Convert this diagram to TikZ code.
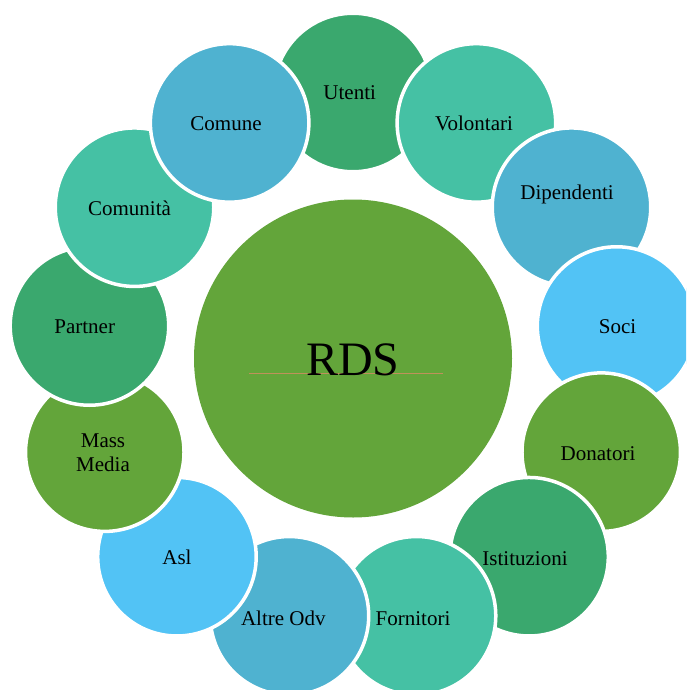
\documentclass[tikz,border=0pt]{standalone}
\usepackage{fontspec}
\setmainfont{Liberation Serif}
\definecolor{cA}{RGB}{58,168,110}
\definecolor{cB}{RGB}{69,193,164}
\definecolor{cC}{RGB}{79,178,208}
\definecolor{cD}{RGB}{82,195,245}
\definecolor{cE}{RGB}{99,165,58}
\definecolor{rulecol}{RGB}{190,145,90}
\begin{document}
\begin{tikzpicture}[x=1pt,y=-1pt,
  bubble/.style={circle,draw=white,line width=3.5pt,minimum size=158.5pt,inner sep=0pt,outer sep=0pt},
  hub/.style={circle,fill=cE,minimum size=318pt,inner sep=0pt,outer sep=0pt},
  lbl/.style={font=\fontsize{21}{24}\selectfont,inner sep=0pt,anchor=base,text=black},
  hublbl/.style={font=\fontsize{48}{50}\selectfont,inner sep=0pt,anchor=base,text=black},
  underline/.style={draw=rulecol,line width=0.8pt}
]
\useasboundingbox (0,0) rectangle (686,690);
\clip (0,0) rectangle (686,690);
\node[hub] (rds) at (353,358.5) {};
\foreach \k/\c/\n in {0/cA/utenti,1/cB/volontari,2/cC/dipendenti,3/cD/soci,4/cE/donatori,5/cA/istituzioni,6/cB/fornitori,7/cC/altre,8/cD/asl,9/cE/mass,10/cA/partner,11/cB/comunita,12/cC/comune}{
  \node[bubble,fill=\c] (\n) at ({353+265.5*cos(90-27.6923*\k)},{358-265.5*sin(90-27.6923*\k)}) {};
}
\coordinate (ruleL) at (249.3,373.3);
\coordinate (ruleR) at (443.3,373.3);
\draw[underline] (ruleL) -- (ruleR);
\node[hublbl] (trds) at (353,375) {RDS};
\node[lbl] (tutenti) at (349.7,100) {Utenti};
\node[lbl] (tvolontari) at (474,130) {Volontari};
\node[lbl] (tdipendenti) at (567,199) {Dipendenti};
\node[lbl] (tsoci) at (617.5,333.3) {Soci};
\node[lbl] (tdonatori) at (598,460.7) {Donatori};
\node[lbl] (tistituzioni) at (525,565) {Istituzioni};
\node[lbl] (tfornitori) at (413,625) {Fornitori};
\node[lbl] (taltre) at (283.3,625) {Altre Odv};
\node[lbl] (tasl) at (177,564) {Asl};
\node[lbl,align=center] (tmass) at (103,471.7) {Mass\\Media};
\node[lbl] (tpartner) at (84.7,333.3) {Partner};
\node[lbl] (tcomunita) at (129.5,215) {Comunità};
\node[lbl] (tcomune) at (226,131) {Comune};
\end{tikzpicture}
\end{document}
